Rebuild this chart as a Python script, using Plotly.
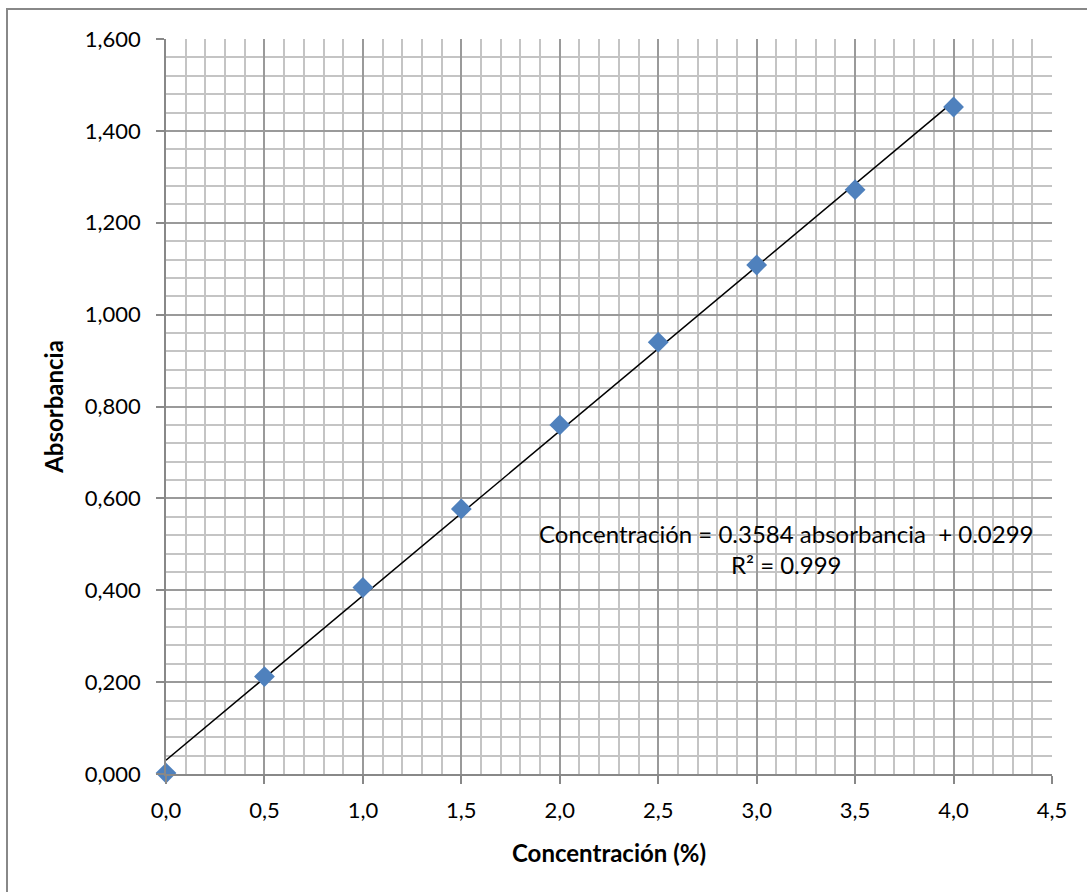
import numpy as np
import plotly.graph_objects as go

# Data
concentracion = [0.0, 0.5, 1.0, 1.5, 2.0, 2.5, 3.0, 3.5, 4.0]
absorbancia = [0.002, 0.212, 0.406, 0.577, 0.760, 0.940, 1.108, 1.272, 1.452]
slope = 0.3584
intercept = 0.0299
eq_text = "Concentración = 0.3584 absorbancia  + 0.0299<br>R² = 0.999"
x_ticks = [0.0, 0.5, 1.0, 1.5, 2.0, 2.5, 3.0, 3.5, 4.0, 4.5]
x_ticklabels = ["0,0", "0,5", "1,0", "1,5", "2,0", "2,5", "3,0", "3,5", "4,0", "4,5"]
y_ticks = [0.0, 0.2, 0.4, 0.6, 0.8, 1.0, 1.2, 1.4, 1.6]
y_ticklabels = ["0,000", "0,200", "0,400", "0,600", "0,800", "1,000", "1,200", "1,400", "1,600"]

FONT = "Lato, Open Sans, sans-serif"

trend_x = np.array([min(concentracion), max(concentracion)])
trend_y = slope * trend_x + intercept

fig = go.Figure()
fig.add_trace(go.Scatter(
    x=trend_x, y=trend_y, mode="lines",
    line=dict(color="black", width=1.5), showlegend=False,
))
fig.add_trace(go.Scatter(
    x=concentracion, y=absorbancia, mode="markers",
    marker=dict(symbol="diamond", size=16, color="#4F81BD", line=dict(width=0)),
    showlegend=False, cliponaxis=False,
))

fig.add_annotation(
    x=3.15, y=0.49, xref="x", yref="y", text=eq_text, showarrow=False,
    font=dict(family=FONT, size=24, color="black"), align="center",
)

L, R, T, B = 166, 35, 39, 118
W, H = 1087, 892
pw = W - L - R
ph = H - T - B
# outer chart border
fig.add_shape(type="rect", xref="paper", yref="paper",
              x0=(7 - L) / pw, x1=(W + 20 - L) / pw,
              y0=-(B + 20) / ph, y1=1 + (T - 9) / ph,
              line=dict(color="#888888", width=2), fillcolor="rgba(0,0,0,0)", layer="below")

fig.update_layout(
    width=W, height=H,
    margin=dict(l=L, r=R, t=T, b=B),
    paper_bgcolor="white", plot_bgcolor="white",
    font=dict(family=FONT, size=22, color="black"),
    xaxis=dict(
        range=[0, 4.5], tickvals=x_ticks, ticktext=x_ticklabels,
        showgrid=True, gridcolor="#9a9a9a", gridwidth=1.5,
        minor=dict(dtick=0.1, showgrid=True, gridcolor="#c4c4c4", gridwidth=1.5),
        ticks="outside", ticklen=8, tickcolor="#888888", tickwidth=1.5,
        showline=True, linecolor="#888888", linewidth=1.5,
        zeroline=False, ticklabelstandoff=8,
        title=dict(text="<b>Concentración (%)</b>", font=dict(size=24), standoff=23),
        tickfont=dict(size=22),
    ),
    yaxis=dict(
        range=[0, 1.6], tickvals=y_ticks, ticktext=y_ticklabels,
        showgrid=True, gridcolor="#9a9a9a", gridwidth=1.5,
        minor=dict(dtick=0.04, showgrid=True, gridcolor="#c4c4c4", gridwidth=1.5),
        ticks="outside", ticklen=8, tickcolor="#888888", tickwidth=1.5,
        showline=True, linecolor="#888888", linewidth=1.5,
        zeroline=False, ticklabelstandoff=11,
        title=dict(text="<b>Absorbancia</b>", font=dict(size=24), standoff=14),
        tickfont=dict(size=22),
    ),
)

fig.write_html("out.html")
